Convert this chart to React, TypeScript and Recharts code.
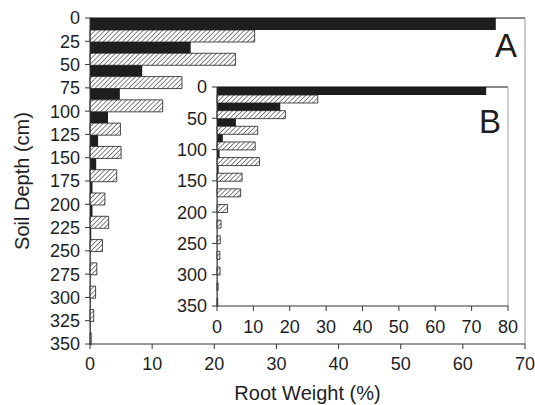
import React from 'react';
import { BarChart, Bar, XAxis, YAxis, ReferenceLine } from 'recharts';

// depth boundaries (cm); each pair of bars covers one 25 cm interval
const depthTicks = [0, 25, 50, 75, 100, 125, 150, 175, 200, 225, 250, 275, 300, 325, 350];
const insetDepthTicks = [0, 50, 100, 150, 200, 250, 300, 350];
const weightTicks = [0, 10, 20, 30, 40, 50, 60, 70];
const insetWeightTicks = [0, 10, 20, 30, 40, 50, 60, 70, 80];

// panel A
const solidA = [65.3, 16.2, 8.4, 4.8, 2.9, 1.3, 1.0, 0.4, 0.4, 0.2, 0.1, 0.1, 0.1, 0.1];
const hatchedA = [26.5, 23.4, 14.8, 11.7, 4.9, 5.0, 4.3, 2.4, 3.0, 2.0, 1.1, 0.9, 0.6, 0.2];

// panel B (inset)
const solidB = [74.0, 17.4, 5.2, 1.6, 0.7, 0.45, 0.2, 0.1, 0.1, 0.1, 0.1, 0.1, 0.1, 0.1];
const hatchedB = [27.7, 18.8, 11.2, 10.5, 11.7, 6.9, 6.5, 2.9, 1.1, 0.9, 0.8, 0.85, 0.3, 0.2];

// middle of each depth interval, used to place the bar pair
const intervalMid = (i: number) => (depthTicks[i] + depthTicks[i + 1]) / 2;
const dataA = solidA.map((v, i) => ({ mid: intervalMid(i), solid: v, hatched: hatchedA[i] }));
const dataB = solidB.map((v, i) => ({ mid: intervalMid(i), solid: v, hatched: hatchedB[i] }));

const ink = '#1e1e1e';
const axisColor = '#333';
const frameGray = '#999';
const tickStyle = { fill: ink, fontSize: 18 };

const Hatch = ({ id }: { id: string }) => (
  <defs>
    <pattern id={id} width={3.4} height={3.4} patternUnits="userSpaceOnUse" patternTransform="rotate(45)">
      <rect width={3.4} height={3.4} fill="#fff" />
      <line x1={0} y1={0} x2={0} y2={3.4} stroke={ink} strokeWidth={1.1} />
    </pattern>
  </defs>
);

const PanelLetter = ({ text, left, top }: { text: string; left: number; top: number }) => (
  <div style={{ position: 'absolute', left, top, fontSize: 33, lineHeight: '33px', color: ink }}>{text}</div>
);

export default function App() {
  return (
    <div
      style={{
        position: 'absolute',
        left: 0,
        top: 0,
        width: 535,
        height: 405,
        background: '#fff',
        fontFamily: '"Liberation Sans", Arial, sans-serif',
      }}
    >
      <BarChart
        width={535}
        height={405}
        data={dataA}
        layout="vertical"
        margin={{ top: 18, right: 10, bottom: 0, left: 0 }}
        barCategoryGap={0}
        barGap={0}
      >
        <Hatch id="hatchA" />
        <XAxis
          xAxisId="w"
          type="number"
          domain={[0, 70]}
          ticks={weightTicks}
          interval={0}
          height={61}
          tick={tickStyle}
          tickSize={5}
          tickMargin={8}
          tickLine={{ stroke: axisColor }}
          axisLine={{ stroke: axisColor }}
          label={{ value: 'Root Weight (%)', position: 'insideBottom', offset: 5, fill: ink, fontSize: 20 }}
        />
        <YAxis
          yAxisId="depth"
          type="number"
          dataKey="mid"
          domain={[0, 350]}
          ticks={depthTicks}
          interval={0}
          width={90}
          tick={tickStyle}
          tickSize={5}
          tickMargin={5}
          tickLine={{ stroke: axisColor }}
          axisLine={{ stroke: axisColor }}
          label={{
            value: 'Soil Depth (cm)',
            angle: -90,
            position: 'insideLeft',
            offset: 22,
            fill: ink,
            fontSize: 20,
            style: { textAnchor: 'middle' },
          }}
        />
        <ReferenceLine xAxisId="w" yAxisId="depth" y={0} stroke="#111" />
        <ReferenceLine xAxisId="w" yAxisId="depth" x={70} stroke={frameGray} />
        <Bar xAxisId="w" yAxisId="depth" dataKey="solid" fill={ink} isAnimationActive={false} />
        <Bar
          xAxisId="w"
          yAxisId="depth"
          dataKey="hatched"
          fill="url(#hatchA)"
          stroke={ink}
          strokeWidth={0.8}
          isAnimationActive={false}
        />
      </BarChart>

      <div style={{ position: 'absolute', left: 170, top: 67 }}>
        <BarChart
          width={360}
          height={278}
          data={dataB}
          layout="vertical"
          margin={{ top: 20, right: 22, bottom: 0, left: 0 }}
          barCategoryGap={0}
          barGap={0}
        >
          <Hatch id="hatchB" />
          <XAxis
            xAxisId="w"
            type="number"
            domain={[0, 80]}
            ticks={insetWeightTicks}
            interval={0}
            height={39}
            tick={tickStyle}
            tickSize={5}
            tickMargin={9}
            tickLine={{ stroke: axisColor }}
            axisLine={{ stroke: axisColor }}
          />
          <YAxis
            yAxisId="depth"
            type="number"
            dataKey="mid"
            domain={[0, 350]}
            ticks={insetDepthTicks}
            interval={0}
            width={47}
            tick={tickStyle}
            tickSize={5}
            tickMargin={5}
            tickLine={{ stroke: axisColor }}
            axisLine={{ stroke: axisColor }}
          />
          <ReferenceLine xAxisId="w" yAxisId="depth" y={0} stroke="#111" />
          <ReferenceLine xAxisId="w" yAxisId="depth" x={80} stroke={frameGray} />
          <Bar xAxisId="w" yAxisId="depth" dataKey="solid" fill={ink} isAnimationActive={false} />
          <Bar
            xAxisId="w"
            yAxisId="depth"
            dataKey="hatched"
            fill="url(#hatchB)"
            stroke={ink}
            strokeWidth={0.8}
            isAnimationActive={false}
          />
        </BarChart>
      </div>

      <PanelLetter text="A" left={495} top={29} />
      <PanelLetter text="B" left={479} top={105} />
    </div>
  );
}
